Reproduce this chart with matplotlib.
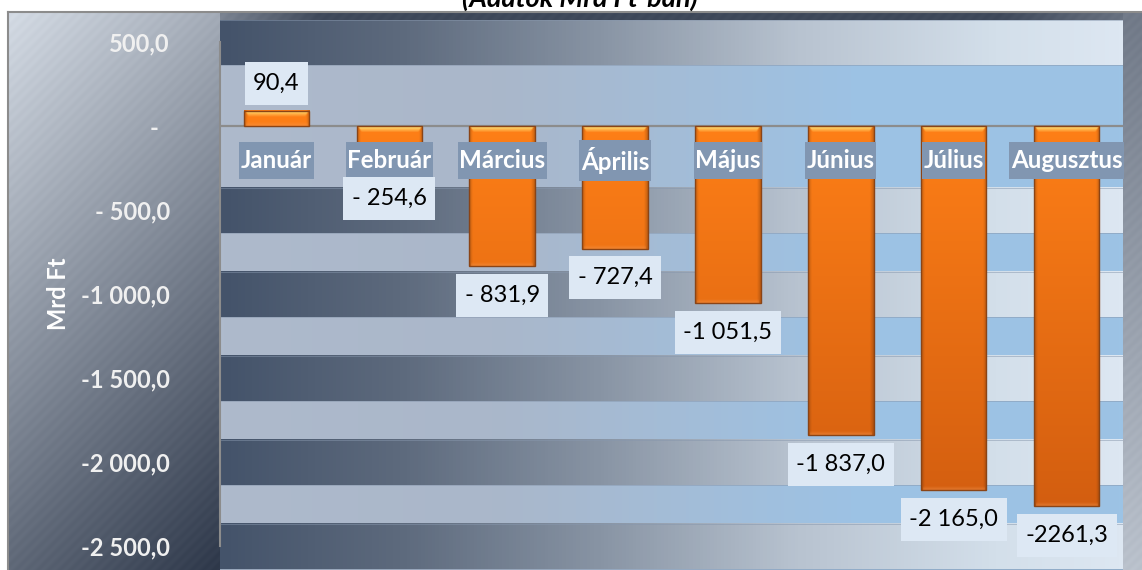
import numpy as np
import matplotlib
matplotlib.use("Agg")
from matplotlib import pyplot as plt
from matplotlib.patches import Rectangle

plt.rcParams["font.family"] = ["Lato", "DejaVu Sans"]

# ---------------------------------------------------------------- data
months = ["Január", "Február", "Március", "Április", "Május",
          "Június", "Július", "Augusztus"]
balance = [90.4, -254.6, -831.9, -727.4, -1051.5, -1837.0, -2165.0, -2261.3]
value_labels = ["90,4", "- 254,6", "- 831,9", "- 727,4", "-1 051,5",
                "-1 837,0", "-2 165,0", "-2261,3"]
y_ticks = [500, 0, -500, -1000, -1500, -2000, -2500]
y_tick_labels = ["500,0", "-  ", "- 500,0", "-1 000,0", "-1 500,0",
                 "-2 000,0", "-2 500,0"]
title = "(Adatok Mrd Ft-ban)"
y_title = "Mrd Ft"

# ---------------------------------------------------------------- styling
W, H = 1142, 570
BAR_W = 0.58
BAND_HALF = 135
FS = 17
FS_CAT = 17.4


def hex_rgb(h):
    h = h.lstrip("#")
    return np.array([int(h[i:i + 2], 16) for i in (0, 2, 4)]) / 255.0


def ramp(stops, cols, n):
    u = np.linspace(0, 1, n)
    cols = np.array([hex_rgb(c) for c in cols])
    return np.stack([np.interp(u, stops, cols[:, k]) for k in range(3)], axis=-1)


fig = plt.figure(figsize=(W / 100, H / 100), dpi=100)
fig.patch.set_facecolor("white")

# chart-area background (outer gradient frame)
bg = fig.add_axes([0, 0, 1, 1])
bg.set_xlim(0, W)
bg.set_ylim(H, 0)
bg.axis("off")

X, Y = np.meshgrid(np.arange(W) + 0.5, np.arange(H) + 0.5)
s = np.clip((X + 0.9 * Y) / 733.0, 0, 1)
s_top = np.interp(X, [220, 320, 1000, 1142], [0.55, 0.9, 0.9, 0.62])
s = np.where((X >= 220) & (Y < 20), s_top, s)
s_right = np.interp(Y, [0, 570], [0.62, 0.18])
s = np.where(X >= 1123, s_right, s)
s = np.clip(s + 0.012 * np.sin((X + Y) * 2 * np.pi / 11.0), 0, 1)
light, dark = hex_rgb("#d9e0e9"), hex_rgb("#2e384a")
img = light + (dark - light) * s[..., None]
alpha = ((X >= 8) & (Y >= 12)).astype(float)
bg.imshow(np.dstack([img, alpha]), extent=(0, W, H, 0), interpolation="bilinear",
          zorder=0)
bg.plot([8, 8], [12, H], color="#8c8c8c", lw=1.5, zorder=1)
bg.plot([8, W], [12, 12], color="#8c8c8c", lw=1.5, zorder=1)

bg.text(580, 7, title, ha="center", va="baseline", fontsize=19.5,
        fontweight="bold", style="italic", color="black")
bg.text(59, 294, y_title, rotation=90, ha="center", va="center", fontsize=FS,
        fontweight="bold", color="white")

# ---------------------------------------------------------------- plot area
ax = fig.add_axes([220 / W, 0, 903 / W, 550 / H])
ax.patch.set_alpha(0)
ax.set_xlim(-0.5, len(months) - 0.5)
ax.set_ylim(-2641, 633)
ax.set_autoscale_on(False)
x0, x1 = ax.get_xlim()
y0, y1 = ax.get_ylim()

light_band = ramp([0, 0.3, 0.7, 1], ["#aebacc", "#aab7ca", "#9dc2e4", "#9cc3e5"], 256)
dark_band = ramp([0, 0.2, 0.42, 0.64, 0.86, 1],
                 ["#44536a", "#5d6a7d", "#8894a4", "#b8c3d0", "#d3dfea", "#dde7f2"], 256)
ax.imshow(light_band[None], extent=(x0, x1, y0, y1), aspect="auto", zorder=0)
for c in y_ticks:
    if c == 0:
        continue
    ax.imshow(dark_band[None], extent=(x0, x1, c - BAND_HALF, c + BAND_HALF),
              aspect="auto", zorder=0.5)
    for e in (c - BAND_HALF, c + BAND_HALF):
        ax.axhline(e, color="#8797ad", lw=0.6, alpha=0.6, zorder=0.6)

ax.axhline(0, color="#8c8c8c", lw=1.6, zorder=2)

for sp in ("top", "right", "bottom"):
    ax.spines[sp].set_visible(False)
ax.spines["left"].set_color("#8c8c8c")
ax.spines["left"].set_linewidth(1.5)
ax.spines["left"].set_bounds(-2500, 500)

ax.set_xticks([])
ax.set_yticks(y_ticks)
ax.set_yticklabels(y_tick_labels, color="#f0f0f0", fontweight="bold", fontsize=FS)
ax.tick_params(axis="y", length=0, pad=36)


def bar_image(h, w):
    h, w = max(int(round(h)), 2), max(int(round(w)), 2)
    yy = np.arange(h)[:, None] + 0.5
    xx = np.arange(w)[None, :] + 0.5
    t = np.clip(yy / 380.0, 0, 1)
    top, bot = hex_rgb("#fe7f17"), hex_rgb("#d35e10")
    im = top + (bot - top) * t[..., None]
    im = np.broadcast_to(im, (h, w, 3)).copy()
    d_side = np.minimum(xx, w - xx)
    side = np.clip(1 - d_side / 4.0, 0, 1)
    im *= (1 - 0.22 * side)[..., None]
    # top bevel highlight
    hl = np.clip(1 - (yy - 1.5) / 5.0, 0, 1) * np.clip((d_side - yy * 0.6) / 2.0, 0, 1)
    hl = np.where(yy < 1.5, 0, hl)
    yellow = hex_rgb("#ffd56a")
    im = im * (1 - hl[..., None]) + yellow * hl[..., None]
    # bottom bevel
    db = h - yy
    bb = np.clip(1 - (db - 1) / 3.0, 0, 1) * (d_side > 2)
    im = im * (1 - 0.35 * bb[..., None]) + hex_rgb("#f39a55") * 0.35 * bb[..., None]
    return np.clip(im, 0, 1)


for i, v in enumerate(balance):
    pa = ax.transData.transform((i - BAR_W / 2, 0))
    pb = ax.transData.transform((i + BAR_W / 2, v))
    w_px, h_px = abs(pb[0] - pa[0]), abs(pb[1] - pa[1])
    ax.imshow(bar_image(h_px, w_px), origin="upper",
              extent=(i - BAR_W / 2, i + BAR_W / 2, min(0, v), max(0, v)),
              aspect="auto", interpolation="bilinear", zorder=3)
ax.bar(range(len(months)), balance, width=BAR_W, fill=False,
       edgecolor="#8a4416", lw=1.0, zorder=4)

# category labels just below the zero line, value labels beyond bar ends
boxed = []
for i, m in enumerate(months):
    t = ax.annotate(m, (i, 0), xytext=(0, -24.5), textcoords="offset points",
                    ha="center", va="center", fontsize=FS_CAT, fontweight="bold",
                    color="white", zorder=6)
    boxed.append((t, "#8196b1", 1.5, 7))
for i, (v, lab) in enumerate(zip(balance, value_labels)):
    off = 20 if v > 0 else -21
    t = ax.annotate(lab, (i, v), xytext=(0, off), textcoords="offset points",
                    ha="center", va="center", fontsize=FS, color="black", zorder=6)
    boxed.append((t, "#dde8f4", 8.5, 11))

fig.canvas.draw()
inv = ax.transData.inverted()
for t, fc, hp, vp in boxed:
    bb = t.get_window_extent()
    (ax0, ay0), (ax1, ay1) = inv.transform([(bb.x0 - hp, bb.y0 - vp),
                                            (bb.x1 + hp, bb.y1 + vp)])
    ax.add_patch(Rectangle((ax0, ay0), ax1 - ax0, ay1 - ay0, fc=fc, ec="none",
                           zorder=5.5, clip_on=False))

fig.savefig("out.png", dpi=100, facecolor="white")
